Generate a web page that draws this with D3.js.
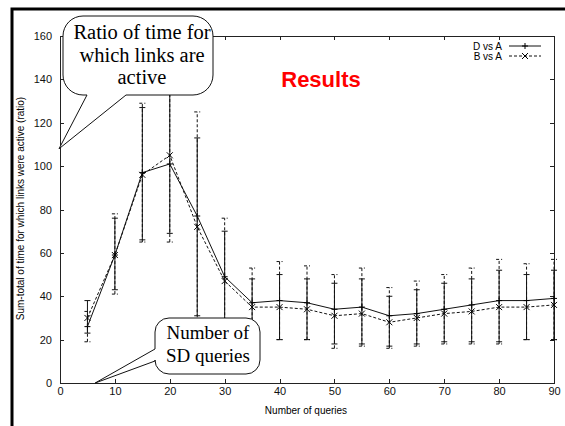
<!DOCTYPE html>
<html>
<head>
<meta charset="utf-8">
<script src="https://cdn.jsdelivr.net/npm/d3@7"></script>
<style>
  body { margin: 0; background: #fff; }
  svg { display: block; }
  .axis path, .axis line { stroke: #222; stroke-width: 1; shape-rendering: crispEdges; }
  .axis text { font-family: 'Liberation Sans', Arial, sans-serif; font-size: 11px; fill: #111; }
  .callout path { fill: #fff; stroke: #111; stroke-width: 1; }
  .callout text { font-family: 'Liberation Serif', 'Times New Roman', serif; fill: #000; text-anchor: middle; }
</style>
</head>
<body>
<script>
'use strict';

// Number of queries on the x axis.
const queries = [5, 10, 15, 20, 25, 30, 35, 40, 45, 50, 55, 60, 65, 70, 75, 80, 85, 90];

// D vs A (solid line, + markers) with low / high error bounds.
const dvaMean = [26, 59, 97, 101, 77, 49, 37, 38, 37, 34, 35, 31, 32, 34, 36, 38, 38, 39];
const dvaLow = [23, 43, 66, 69, 31, 22, 22, 20, 20, 18, 18, 17, 18, 19, 19, 19, 20, 20];
const dvaHigh = [38, 76, 127, 140, 113, 70, 48, 50, 48, 46, 48, 40, 43, 46, 48, 52, 50, 52];

// B vs A (dashed line, x markers).
const bvaMean = [30, 59, 96, 105, 72, 47, 35, 35, 34, 31, 32, 28, 30, 32, 33, 35, 35, 36];
const bvaLow = [19, 41, 65, 65, 28, 22, 22, 20, 20, 16, 17, 16, 17, 18, 18, 18, 20, 20];
const bvaHigh = [33, 78, 129, 136, 125, 76, 53, 56, 54, 50, 53, 44, 47, 50, 53, 57, 55, 57];

const xTicks = [0, 10, 20, 30, 40, 50, 60, 70, 80, 90];
const yTicks = [0, 20, 40, 60, 80, 100, 120, 140, 160];

const seriesNames = ['D vs A', 'B vs A'];

const width = 565;
const height = 426;
const margin = { top: 36, right: 11, bottom: 43, left: 60 };

const svg = d3.select('body').append('svg')
  .attr('width', width)
  .attr('height', height);

svg.append('rect')
  .attr('width', width)
  .attr('height', height)
  .attr('fill', '#fff');

// Thick outer frame, only top and left edges are visible in the picture.
svg.append('path')
  .attr('d', `M12,${height} V9 H${width}`)
  .attr('fill', 'none')
  .attr('stroke', '#000')
  .attr('stroke-width', 3);

const chartWidth = width - margin.left - margin.right;
const chartHeight = height - margin.top - margin.bottom;

const x = d3.scaleLinear().domain([0, 90]).range([0, chartWidth]);
const y = d3.scaleLinear().domain([0, 160]).range([chartHeight, 0]);

const chart = svg.append('g')
  .attr('transform', `translate(${margin.left},${margin.top})`);

// Axes with gnuplot style inward ticks on all four sides.
chart.append('g')
  .classed('axis', true)
  .attr('transform', `translate(0,${chartHeight})`)
  .call(d3.axisBottom(x).tickValues(xTicks).tickSizeInner(-4).tickSizeOuter(0).tickPadding(4));

chart.append('g')
  .classed('axis', true)
  .call(d3.axisLeft(y).tickValues(yTicks).tickSizeInner(-4).tickSizeOuter(0).tickPadding(8));

chart.append('g')
  .classed('axis', true)
  .call(d3.axisTop(x).tickValues(xTicks).tickSizeInner(-4).tickSizeOuter(0).tickFormat(''));

chart.append('g')
  .classed('axis', true)
  .attr('transform', `translate(${chartWidth},0)`)
  .call(d3.axisRight(y).tickValues(yTicks).tickSizeInner(-4).tickSizeOuter(0).tickFormat(''));

const series = [
  { name: seriesNames[0], mean: dvaMean, low: dvaLow, high: dvaHigh, dash: null, marker: 'plus' },
  { name: seriesNames[1], mean: bvaMean, low: bvaLow, high: bvaHigh, dash: '3,2', marker: 'cross' }
];

const markerPath = (type, cx, cy) => {
  const s = 3;
  if (type === 'plus') {
    return `M${cx - s},${cy}H${cx + s}M${cx},${cy - s}V${cy + s}`;
  }
  return `M${cx - s},${cy - s}L${cx + s},${cy + s}M${cx - s},${cy + s}L${cx + s},${cy - s}`;
};

const line = d3.line()
  .x(d => x(d.q))
  .y(d => y(d.v));

series.forEach(s => {
  const points = queries.map((q, i) => ({ q, v: s.mean[i], lo: s.low[i], hi: s.high[i] }));
  const g = chart.append('g').classed('series', true);

  // Error bars with small caps.
  g.selectAll('path.err')
    .data(points)
    .enter().append('path')
    .classed('err', true)
    .attr('d', d => {
      const cx = x(d.q);
      return `M${cx},${y(d.lo)}V${y(d.hi)}M${cx - 3},${y(d.lo)}H${cx + 3}M${cx - 3},${y(d.hi)}H${cx + 3}`;
    })
    .attr('fill', 'none')
    .attr('stroke', '#111')
    .attr('stroke-width', 1)
    .attr('stroke-dasharray', s.dash);

  g.append('path')
    .datum(points)
    .attr('d', line)
    .attr('fill', 'none')
    .attr('stroke', '#111')
    .attr('stroke-width', 1)
    .attr('stroke-dasharray', s.dash);

  g.selectAll('path.mark')
    .data(points)
    .enter().append('path')
    .classed('mark', true)
    .attr('d', d => markerPath(s.marker, x(d.q), y(d.v)))
    .attr('fill', 'none')
    .attr('stroke', '#000')
    .attr('stroke-width', 1);
});

// Legend in the top right corner.
const legend = chart.append('g')
  .attr('transform', `translate(${chartWidth - 45},0)`);

series.forEach((s, i) => {
  const ly = 10 + i * 10;
  legend.append('text')
    .attr('x', -7)
    .attr('y', ly + 3.5)
    .attr('text-anchor', 'end')
    .attr('font-family', "'Liberation Sans', Arial, sans-serif")
    .attr('font-size', 10)
    .text(s.name);
  legend.append('line')
    .attr('x1', 0).attr('x2', 32)
    .attr('y1', ly).attr('y2', ly)
    .attr('stroke', '#111')
    .attr('stroke-dasharray', s.dash);
  legend.append('path')
    .attr('d', markerPath(s.marker, 16, ly))
    .attr('fill', 'none')
    .attr('stroke', '#000');
});

// Axis titles.
svg.append('text')
  .attr('x', margin.left + x(45) - 1)
  .attr('y', 414)
  .attr('text-anchor', 'middle')
  .attr('font-family', "'Liberation Sans', Arial, sans-serif")
  .attr('font-size', 10)
  .text('Number of queries');

svg.append('text')
  .attr('transform', `translate(24,${margin.top + y(80) - 1}) rotate(-90)`)
  .attr('text-anchor', 'middle')
  .attr('font-family', "'Liberation Sans', Arial, sans-serif")
  .attr('font-size', 10)
  .text('Sum-total of time for which links were active (ratio)');

svg.append('text')
  .attr('x', 321)
  .attr('y', 87)
  .attr('text-anchor', 'middle')
  .attr('font-family', "'Liberation Sans', Arial, sans-serif")
  .attr('font-weight', 'bold')
  .attr('font-size', 22)
  .attr('fill', '#ff0000')
  .text('Results');

// Speech bubble callouts, tips anchored to the data scales.
const roundBox = (x0, y0, x1, y1, r, tail) => {
  // tail: { side, a, b, tx, ty } where a/b run along the chosen side.
  let d = `M${x0 + r},${y0} H${x1 - r} A${r},${r} 0 0 1 ${x1},${y0 + r}`;
  d += ` V${y1 - r} A${r},${r} 0 0 1 ${x1 - r},${y1}`;
  if (tail.side === 'bottom') {
    d += ` H${tail.b} L${tail.tx},${tail.ty} L${tail.a},${y1}`;
  }
  d += ` H${x0 + r} A${r},${r} 0 0 1 ${x0},${y1 - r}`;
  if (tail.side === 'left') {
    d += ` V${tail.b} L${tail.tx},${tail.ty} L${x0},${tail.a}`;
  }
  d += ` V${y0 + r} A${r},${r} 0 0 1 ${x0 + r},${y0} Z`;
  return d;
};

const callout1 = svg.append('g').classed('callout', true);
callout1.append('path')
  .attr('d', roundBox(63, 16, 213, 95, 20,
    { side: 'bottom', a: 87, b: 126, tx: margin.left + x(0) - 1, ty: margin.top + y(108) }));
['Ratio of time for', 'which links are', 'active'].forEach((t, i) => {
  callout1.append('text')
    .attr('x', 142)
    .attr('y', [39, 62, 84][i])
    .attr('font-size', 20.5)
    .text(t);
});

const callout2 = svg.append('g').classed('callout', true);
callout2.append('path')
  .attr('d', roundBox(155, 318, 260, 374, 14,
    { side: 'left', a: 349, b: 361, tx: margin.left + x(6.4), ty: margin.top + y(0) }));
['Number of', 'SD queries'].forEach((t, i) => {
  callout2.append('text')
    .attr('x', 208)
    .attr('y', [339, 362][i])
    .attr('font-size', 19)
    .text(t);
});
</script>
</body>
</html>
